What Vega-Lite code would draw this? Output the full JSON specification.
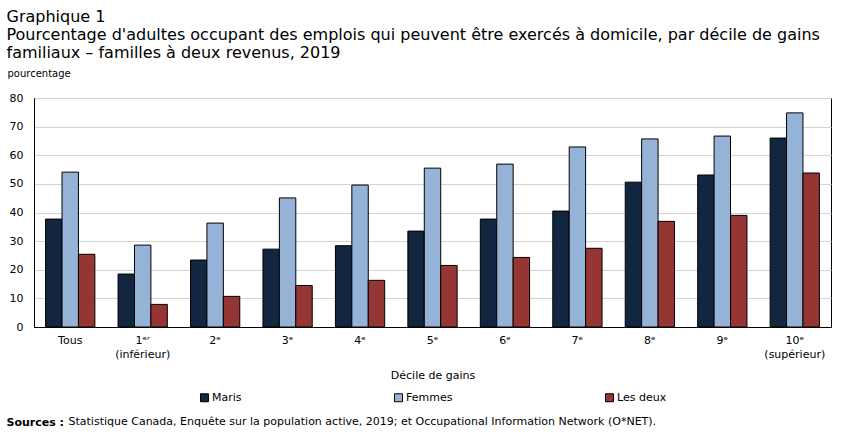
{
  "$schema": "https://vega.github.io/schema/vega-lite/v6.json",
  "padding": {"left": 6, "top": 8, "right": 6, "bottom": 4},
  "background": "white",
  "config": {
    "font": "DejaVu Sans",
    "view": {"stroke": "black", "strokeWidth": 1},
    "axis": {"labelFont": "DejaVu Sans", "titleFont": "DejaVu Sans", "labelColor": "black", "titleColor": "black"},
    "legend": {"labelFont": "DejaVu Sans", "layout": {"bottom": {"anchor": "middle"}}},
    "title": {"font": "DejaVu Sans", "color": "black"}
  },
  "title": {
    "text": [
      "Graphique 1",
      "Pourcentage d'adultes occupant des emplois qui peuvent être exercés à domicile, par décile de gains",
      "familiaux – familles à deux revenus, 2019"
    ],
    "anchor": "start",
    "fontSize": 16,
    "fontWeight": "normal",
    "lineHeight": 18,
    "offset": 7
  },
  "resolve": {"legend": {"color": "independent", "strokeWidth": "independent"}},
  "vconcat": [
    {
      "title": {
        "text": "Statistique Canada, Enquête sur la population active, 2019; et Occupational Information Network (O*NET).",
        "orient": "bottom",
        "anchor": "start",
        "fontSize": 11,
        "fontWeight": "normal",
        "offset": 0,
        "dx": 62,
        "dy": -12
      },
      "resolve": {"legend": {"color": "independent", "strokeWidth": "independent"}},
      "vconcat": [
        {
          "title": {
            "text": "Sources :",
            "orient": "bottom",
            "anchor": "start",
            "fontSize": 11,
            "fontWeight": "bold",
            "offset": 12
          },
          "resolve": {"legend": {"color": "independent", "strokeWidth": "independent"}},
          "vconcat": [
            {
              "width": 797,
              "height": 229,
              "data": {
                "values": [
                  {"decile": "Tous", "serie": "Maris", "pct": 37.7},
                  {"decile": "Tous", "serie": "Femmes", "pct": 54.1},
                  {"decile": "Tous", "serie": "Les deux", "pct": 25.4},
                  {"decile": "1ᵉʳ (inférieur)", "serie": "Maris", "pct": 18.5},
                  {"decile": "1ᵉʳ (inférieur)", "serie": "Femmes", "pct": 28.6},
                  {"decile": "1ᵉʳ (inférieur)", "serie": "Les deux", "pct": 7.9},
                  {"decile": "2ᵉ", "serie": "Maris", "pct": 23.4},
                  {"decile": "2ᵉ", "serie": "Femmes", "pct": 36.3},
                  {"decile": "2ᵉ", "serie": "Les deux", "pct": 10.7},
                  {"decile": "3ᵉ", "serie": "Maris", "pct": 27.2},
                  {"decile": "3ᵉ", "serie": "Femmes", "pct": 45.1},
                  {"decile": "3ᵉ", "serie": "Les deux", "pct": 14.5},
                  {"decile": "4ᵉ", "serie": "Maris", "pct": 28.4},
                  {"decile": "4ᵉ", "serie": "Femmes", "pct": 49.6},
                  {"decile": "4ᵉ", "serie": "Les deux", "pct": 16.3},
                  {"decile": "5ᵉ", "serie": "Maris", "pct": 33.5},
                  {"decile": "5ᵉ", "serie": "Femmes", "pct": 55.5},
                  {"decile": "5ᵉ", "serie": "Les deux", "pct": 21.5},
                  {"decile": "6ᵉ", "serie": "Maris", "pct": 37.7},
                  {"decile": "6ᵉ", "serie": "Femmes", "pct": 56.9},
                  {"decile": "6ᵉ", "serie": "Les deux", "pct": 24.3},
                  {"decile": "7ᵉ", "serie": "Maris", "pct": 40.5},
                  {"decile": "7ᵉ", "serie": "Femmes", "pct": 62.9},
                  {"decile": "7ᵉ", "serie": "Les deux", "pct": 27.5},
                  {"decile": "8ᵉ", "serie": "Maris", "pct": 50.6},
                  {"decile": "8ᵉ", "serie": "Femmes", "pct": 65.7},
                  {"decile": "8ᵉ", "serie": "Les deux", "pct": 36.9},
                  {"decile": "9ᵉ", "serie": "Maris", "pct": 53.1},
                  {"decile": "9ᵉ", "serie": "Femmes", "pct": 66.7},
                  {"decile": "9ᵉ", "serie": "Les deux", "pct": 39.0},
                  {"decile": "10ᵉ (supérieur)", "serie": "Maris", "pct": 66.0},
                  {"decile": "10ᵉ (supérieur)", "serie": "Femmes", "pct": 74.8},
                  {"decile": "10ᵉ (supérieur)", "serie": "Les deux", "pct": 53.8}
                ]
              },
              "mark": {"type": "bar", "stroke": "black"},
              "encoding": {
                "x": {
                  "field": "decile",
                  "type": "nominal",
                  "sort": ["Tous", "1ᵉʳ (inférieur)", "2ᵉ", "3ᵉ", "4ᵉ", "5ᵉ", "6ᵉ", "7ᵉ", "8ᵉ", "9ᵉ", "10ᵉ (supérieur)"],
                  "scale": {"paddingInner": 0.32, "paddingOuter": 0.16},
                  "axis": {
                    "title": "Décile de gains",
                    "titleFontSize": 11,
                    "titleFontWeight": "normal",
                    "titlePadding": 10,
                    "labelAngle": 0,
                    "labelFontSize": 11,
                    "labelPadding": 7,
                    "labelLineHeight": 14,
                    "labelExpr": "split(replace(datum.value, ' (', '|('), '|')",
                    "ticks": false,
                    "domainColor": "black"
                  }
                },
                "xOffset": {
                  "field": "serie",
                  "type": "nominal",
                  "sort": ["Maris", "Femmes", "Les deux"],
                  "scale": {"paddingInner": 0, "paddingOuter": 0}
                },
                "y": {
                  "field": "pct",
                  "type": "quantitative",
                  "scale": {"domain": [0, 80], "nice": false},
                  "axis": {
                    "title": "pourcentage",
                    "titleAngle": 0,
                    "titleAlign": "left",
                    "titleBaseline": "bottom",
                    "titleX": -27,
                    "titleY": -20,
                    "titleFontSize": 10,
                    "titleFontWeight": "normal",
                    "values": [0, 10, 20, 30, 40, 50, 60, 70, 80],
                    "labelFontSize": 11,
                    "labelPadding": 11,
                    "ticks": false,
                    "domainColor": "black",
                    "gridColor": "#d4d4d4",
                    "gridWidth": 1
                  }
                },
                "color": {
                  "field": "serie",
                  "type": "nominal",
                  "sort": ["Maris", "Femmes", "Les deux"],
                  "scale": {"domain": ["Maris", "Femmes", "Les deux"], "range": ["#13263f", "#95b3d7", "#963634"]},
                  "legend": {
                    "title": null,
                    "orient": "bottom",
                    "direction": "horizontal",
                    "symbolType": "square",
                    "symbolSize": 64,
                    "symbolStrokeColor": "black",
                    "symbolStrokeWidth": 1,
                    "symbolOpacity": 1,
                    "labelFontSize": 11,
                    "labelOffset": 2,
                    "columnPadding": 150,
                    "offset": 12
                  }
                },
                "strokeWidth": {
                  "field": "serie",
                  "type": "nominal",
                  "scale": {"domain": ["Maris", "Femmes", "Les deux"], "range": [1, 1, 2]},
                  "legend": null
                }
              }
            }
          ]
        }
      ]
    }
  ]
}
